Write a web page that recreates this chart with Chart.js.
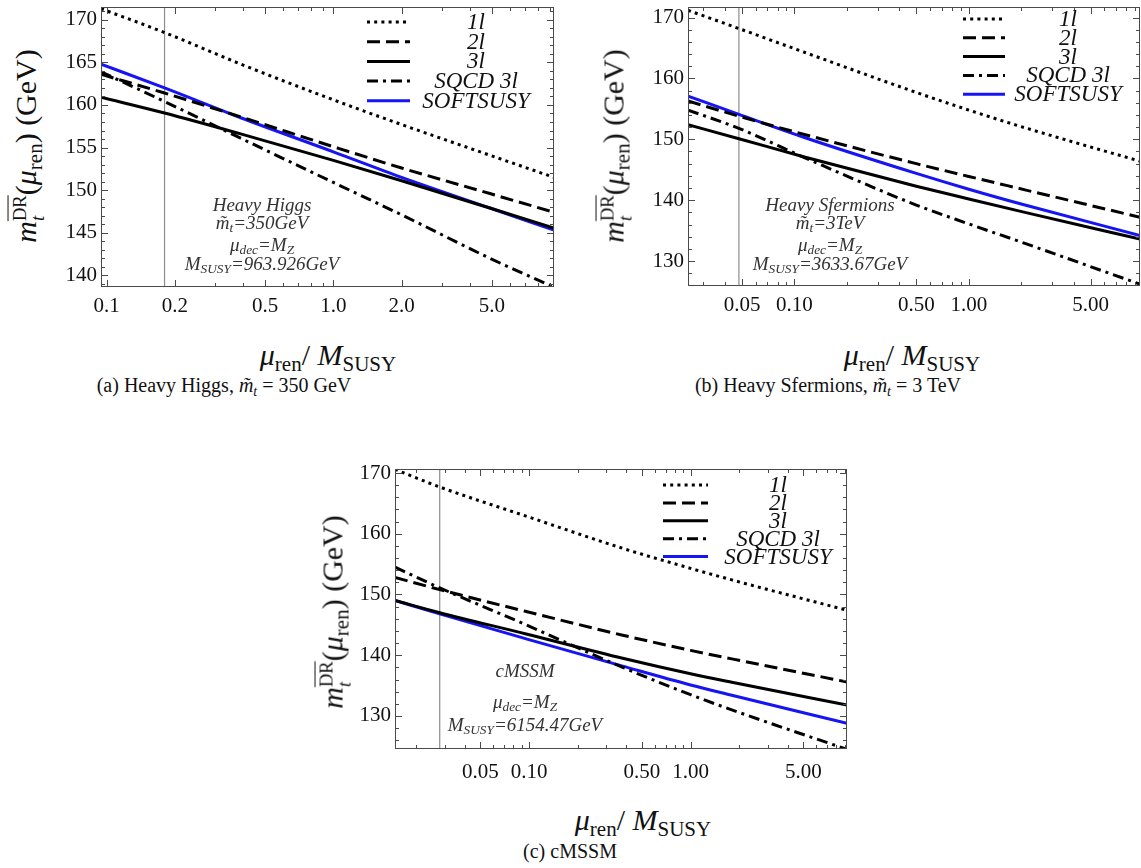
<!DOCTYPE html>
<html>
<head>
<meta charset="utf-8">
<script src="https://cdn.jsdelivr.net/npm/chart.js@4.4.1/dist/chart.umd.min.js"></script>
<style>
  body { margin: 0; background: #fff; }
  #page { position: relative; width: 1141px; height: 868px; overflow: hidden;
          font-family: 'Liberation Serif', 'Times New Roman', serif; color: #111; }
  canvas { position: absolute; }
  .t { position: absolute; white-space: nowrap; transform: translate(-50%, -50%); }
  .ytitle { font-size: 30px; transform: translate(-50%, -50%) rotate(-90deg); }
  .xtitle { font-size: 30px; }
  .cap { font-size: 20px; }
  .note { font-size: 19px; font-style: italic; color: #333; line-height: 1; }
  sub { font-size: 0.7em; vertical-align: -0.3em; line-height: 0; }
  .ss { display: inline-block; font-size: 0.62em; line-height: 1; vertical-align: -0.45em; }
  .ss span { display: block; }
</style>
</head>
<body>
<div id="page">
  <canvas id="chartA" width="520" height="330" style="left:50px;top:0px"></canvas>
  <canvas id="chartB" width="511" height="330" style="left:630px;top:0px"></canvas>
  <canvas id="chartC" width="530" height="360" style="left:335px;top:440px"></canvas>

  <!-- axis titles -->
  <div class="t ytitle" style="left:28px;top:146px"><i>m</i><span class="ss"><span style="text-decoration:overline">DR</span><span><i>t</i></span></span>(<i>μ</i><sub>ren</sub>) (GeV)</div>
  <div class="t ytitle" style="left:616px;top:146px"><i>m</i><span class="ss"><span style="text-decoration:overline">DR</span><span><i>t</i></span></span>(<i>μ</i><sub>ren</sub>) (GeV)</div>
  <div class="t ytitle" style="left:335px;top:612px"><i>m</i><span class="ss"><span style="text-decoration:overline">DR</span><span><i>t</i></span></span>(<i>μ</i><sub>ren</sub>) (GeV)</div>

  <div class="t xtitle" style="left:328px;top:355px"><i>μ</i><sub>ren</sub>/ <i>M</i><sub>SUSY</sub></div>
  <div class="t xtitle" style="left:912px;top:355px"><i>μ</i><sub>ren</sub>/ <i>M</i><sub>SUSY</sub></div>
  <div class="t xtitle" style="left:643px;top:820px"><i>μ</i><sub>ren</sub>/ <i>M</i><sub>SUSY</sub></div>

  <!-- captions -->
  <div class="t cap" style="left:224px;top:385px">(a) Heavy Higgs, <i>m̃</i><sub><i>t</i></sub> = 350 GeV</div>
  <div class="t cap" style="left:828px;top:385px">(b) Heavy Sfermions, <i>m̃</i><sub><i>t</i></sub> = 3 TeV</div>
  <div class="t cap" style="left:570px;top:851px">(c) cMSSM</div>

  <!-- in-plot notes -->
  <div class="t note" style="left:262px;top:204px">Heavy Higgs</div>
  <div class="t note" style="left:262px;top:222px">m̃<sub>t</sub>=350GeV</div>
  <div class="t note" style="left:262px;top:244px">μ<sub>dec</sub>=M<sub>Z</sub></div>
  <div class="t note" style="left:262px;top:263px">M<sub>SUSY</sub>=963.926GeV</div>

  <div class="t note" style="left:830px;top:204px">Heavy Sfermions</div>
  <div class="t note" style="left:830px;top:222px">m̃<sub>t</sub>=3TeV</div>
  <div class="t note" style="left:830px;top:244px">μ<sub>dec</sub>=M<sub>Z</sub></div>
  <div class="t note" style="left:830px;top:263px">M<sub>SUSY</sub>=3633.67GeV</div>

  <div class="t note" style="left:525px;top:670px">cMSSM</div>
  <div class="t note" style="left:525px;top:701px">μ<sub>dec</sub>=M<sub>Z</sub></div>
  <div class="t note" style="left:525px;top:724px">M<sub>SUSY</sub>=6154.47GeV</div>
</div>

<script>
// ---- data ----
const seriesNames = ["1l", "2l", "3l", "SQCD 3l", "SOFTSUSY"];

// (a) Heavy Higgs
const xA = [0.0944, 0.18, 0.39, 1.0, 2.0, 4.9, 9.4];
const oneLoopA = [171.3, 168.5, 164.8, 160.6, 157.7, 154.1, 151.5];
const twoLoopA = [163.6, 161.4, 158.6, 155.1, 152.6, 149.6, 147.4];
const threeLoopA = [160.9, 159.05, 156.6, 153.5, 151.1, 147.9, 145.55];
const sqcdA = [163.9, 160.4, 156.1, 150.9, 147.1, 142.0, 138.6];
const softsusyA = [164.8, 162.0, 158.5, 154.5, 151.5, 147.9, 145.3];
const xTicksA = [0.1, 0.2, 0.5, 1, 2, 5];
const xLabelsA = ["0.1", "0.2", "0.5", "1.0", "2.0", "5.0"];
const yTicksA = [140, 145, 150, 155, 160, 165, 170];

// (b) Heavy Sfermions
const xB = [0.0245, 0.048, 0.114, 0.5, 1.0, 2.1, 9.6];
const oneLoopB = [171.2, 168.2, 164.3, 157.7, 154.8, 151.9, 146.4];
const twoLoopB = [156.3, 153.8, 150.8, 146.0, 143.9, 141.7, 137.2];
const threeLoopB = [152.4, 150.1, 147.1, 142.3, 140.2, 138.0, 133.6];
const sqcdB = [154.8, 151.8, 147.0, 139.2, 136.1, 132.9, 126.2];
const softsusyB = [157.1, 154.1, 150.3, 144.4, 141.8, 139.2, 134.2];
const xTicksB = [0.05, 0.1, 0.5, 1, 5];
const xLabelsB = ["0.05", "0.10", "0.50", "1.00", "5.00"];
const yTicksB = [130, 140, 150, 160, 170];

// (c) cMSSM
const xC = [0.0148, 0.028, 0.096, 0.38, 1.0, 1.8, 9.3];
const oneLoopC = [170.6, 167.7, 162.9, 157.6, 154.3, 152.4, 147.4];
const twoLoopC = [152.8, 150.8, 147.2, 143.3, 140.8, 139.4, 135.6];
const threeLoopC = [149.0, 147.0, 143.5, 139.5, 136.95, 135.55, 131.8];
const sqcdC = [154.5, 151.1, 145.0, 138.0, 133.5, 131.0, 124.5];
const softsusyC = [149.0, 146.8, 142.7, 138.2, 135.1, 133.4, 128.8];
const xTicksC = [0.05, 0.1, 0.5, 1, 5];
const xLabelsC = ["0.05", "0.10", "0.50", "1.00", "5.00"];
const yTicksC = [130, 140, 150, 160, 170];

// top-quark mass marker (mu_ren / M_SUSY)
const mtMarks = [0.18, 0.048, 0.028];

// ---- styles ----
const serif = "'Liberation Serif', 'Times New Roman', serif";
const lineStyles = [
    { color: "#000", width: 3, dash: [3, 4.2] },
    { color: "#000", width: 3, dash: [13, 6] },
    { color: "#000", width: 3, dash: [] },
    { color: "#000", width: 3, dash: [11, 5, 3, 5] },
    { color: "#1414f5", width: 3, dash: [] }
];

function logMinor(min, max, majors) {
    const out = [];
    for (let e = Math.floor(Math.log10(min)); e <= Math.ceil(Math.log10(max)); e++) {
        for (let k = 1; k <= 9; k++) {
            const v = k * Math.pow(10, e);
            if (v > min && v < max && !majors.some(m => Math.abs(m - v) < 1e-9 * v)) out.push(v);
        }
    }
    return out;
}

function linMinor(min, max, step, majors) {
    const out = [];
    for (let v = Math.ceil(min / step) * step; v <= max; v += step) {
        if (!majors.includes(Math.round(v * 100) / 100)) out.push(v);
    }
    return out;
}

// frame with inward ticks on all four sides, plus the key
const framePlugin = {
    id: "frame",
    afterDatasetsDraw(chart) {
        const o = chart.options.plugins.frame;
        const { ctx, chartArea: a } = chart;
        const x = chart.scales.x, y = chart.scales.y;
        ctx.save();
        ctx.strokeStyle = "#4a4a4a";
        ctx.lineWidth = 1;
        ctx.strokeRect(a.left + 0.5, a.top + 0.5, a.width - 1, a.height - 1);
        ctx.beginPath();
        const xt = (v, len) => {
            const px = Math.round(x.getPixelForValue(v)) + 0.5;
            ctx.moveTo(px, a.bottom); ctx.lineTo(px, a.bottom - len);
            ctx.moveTo(px, a.top); ctx.lineTo(px, a.top + len);
        };
        const yt = (v, len) => {
            const py = Math.round(y.getPixelForValue(v)) + 0.5;
            ctx.moveTo(a.left, py); ctx.lineTo(a.left + len, py);
            ctx.moveTo(a.right, py); ctx.lineTo(a.right - len, py);
        };
        o.xMajor.forEach(v => xt(v, 7));
        o.xMinor.forEach(v => xt(v, 4));
        o.yMajor.forEach(v => yt(v, 7));
        o.yMinor.forEach(v => yt(v, 4));
        ctx.stroke();
        ctx.restore();
    },
    afterDraw(chart) {
        const o = chart.options.plugins.frame.key;
        const { ctx, chartArea: a } = chart;
        ctx.save();
        ctx.font = "italic 23px " + serif;
        ctx.textAlign = "center";
        ctx.textBaseline = "middle";
        ctx.fillStyle = "#111";
        seriesNames.forEach((name, i) => {
            const ds = chart.data.datasets[i];
            const yy = a.top + o.top + i * o.step;
            ctx.beginPath();
            ctx.strokeStyle = ds.borderColor;
            ctx.lineWidth = ds.borderWidth;
            ctx.setLineDash(ds.borderDash);
            ctx.moveTo(a.right - o.from, yy);
            ctx.lineTo(a.right - o.to, yy);
            ctx.stroke();
            ctx.setLineDash([]);
            ctx.fillText(name, a.right - o.text, yy + 1);
        });
        ctx.restore();
    }
};

function drawPanel(id, p) {
    const series = [p.oneLoop, p.twoLoop, p.threeLoop, p.sqcd, p.softsusy];
    const datasets = series.map((vals, i) => ({
        label: seriesNames[i],
        data: p.x.map((xv, j) => ({ x: xv, y: vals[j] })),
        borderColor: lineStyles[i].color,
        borderWidth: lineStyles[i].width,
        borderDash: lineStyles[i].dash,
        borderCapStyle: "butt",
        pointRadius: 0,
        cubicInterpolationMode: "monotone",
        fill: false
    }));
    datasets.push({
        label: "mt",
        data: [{ x: p.mt, y: p.yMin }, { x: p.mt, y: p.yMax }],
        borderColor: "#8c8c8c",
        borderWidth: 1.2,
        pointRadius: 0
    });

    new Chart(document.getElementById(id), {
        type: "line",
        data: { datasets },
        options: {
            responsive: false,
            animation: false,
            events: [],
            layout: { padding: { top: p.padTop, right: p.padRight, left: 0, bottom: 0 } },
            plugins: {
                legend: { display: false },
                tooltip: { enabled: false },
                frame: {
                    xMajor: p.xTicks,
                    xMinor: logMinor(p.xMin, p.xMax, p.xTicks),
                    yMajor: p.yTicks,
                    yMinor: linMinor(p.yMin, p.yMax, p.yStep, p.yTicks),
                    key: p.key
                }
            },
            scales: {
                x: {
                    type: "logarithmic",
                    min: p.xMin, max: p.xMax,
                    bounds: "data",
                    grid: { display: false, drawTicks: false },
                    border: { display: false },
                    ticks: {
                        autoSkip: false, maxRotation: 0, minRotation: 0,
                        padding: p.xLabelPad,
                        color: "#111",
                        font: { family: serif, size: 21 },
                        callback: (v, i) => p.xLabels[i]
                    },
                    afterBuildTicks: s => { s.ticks = p.xTicks.map(v => ({ value: v })); },
                    afterFit: s => { s.height = p.axisH; s.paddingLeft = 0; s.paddingRight = 0; }
                },
                y: {
                    type: "linear",
                    min: p.yMin, max: p.yMax,
                    bounds: "data",
                    grid: { display: false, drawTicks: false },
                    border: { display: false },
                    ticks: {
                        padding: 4,
                        color: "#111",
                        font: { family: serif, size: 21 }
                    },
                    afterBuildTicks: s => { s.ticks = p.yTicks.map(v => ({ value: v })); },
                    afterFit: s => { s.width = p.axisW; s.paddingTop = 0; s.paddingBottom = 0; }
                }
            }
        },
        plugins: [framePlugin]
    });
}

drawPanel("chartA", {
    x: xA, oneLoop: oneLoopA, twoLoop: twoLoopA, threeLoop: threeLoopA, sqcd: sqcdA, softsusy: softsusyA,
    xTicks: xTicksA, xLabels: xLabelsA, yTicks: yTicksA, mt: mtMarks[0],
    xMin: 0.0944, xMax: 9.4, yMin: 138.63, yMax: 171.5, yStep: 1,
    axisW: 51, axisH: 43, padTop: 7, padRight: 16, xLabelPad: 7,
    key: { from: 187, to: 144, text: 78, top: 15, step: 19.7 }
});

drawPanel("chartB", {
    x: xB, oneLoop: oneLoopB, twoLoop: twoLoopB, threeLoop: threeLoopB, sqcd: sqcdB, softsusy: softsusyB,
    xTicks: xTicksB, xLabels: xLabelsB, yTicks: yTicksB, mt: mtMarks[1],
    xMin: 0.0245, xMax: 9.6, yMin: 125.9, yMax: 171.74, yStep: 2,
    axisW: 58, axisH: 44, padTop: 7, padRight: 1, xLabelPad: 7,
    key: { from: 177, to: 135, text: 72, top: 12, step: 18.8 }
});

drawPanel("chartC", {
    x: xC, oneLoop: oneLoopC, twoLoop: twoLoopC, threeLoop: threeLoopC, sqcd: sqcdC, softsusy: softsusyC,
    xTicks: xTicksC, xLabels: xLabelsC, yTicks: yTicksC, mt: mtMarks[2],
    xMin: 0.0148, xMax: 9.3, yMin: 124.56, yMax: 170.66, yStep: 2,
    axisW: 60, axisH: 51, padTop: 29, padRight: 18, xLabelPad: 11,
    key: { from: 184, to: 139, text: 69, top: 16, step: 17.9 }
});
</script>
</body>
</html>
